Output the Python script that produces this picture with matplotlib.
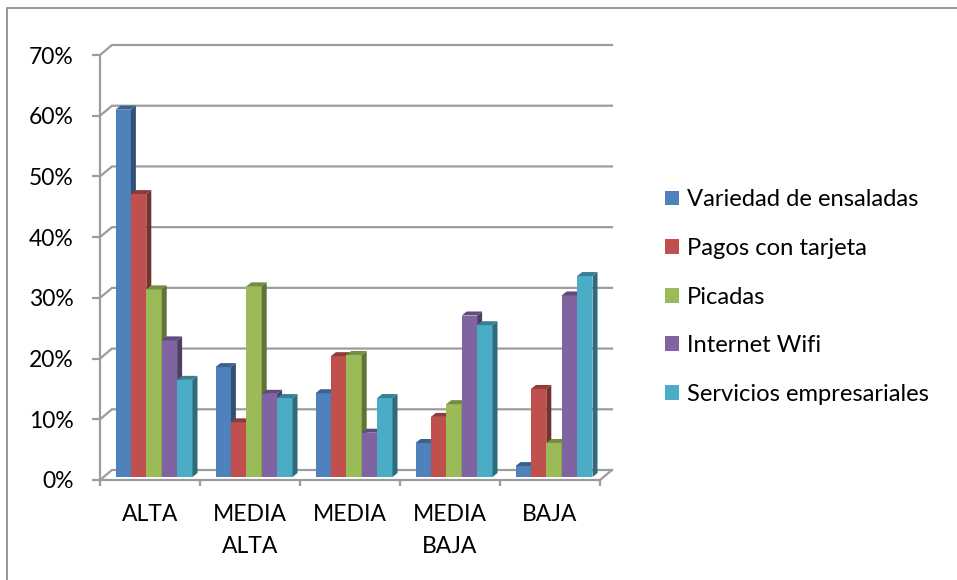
import numpy as np
import matplotlib
matplotlib.use('Agg')
import matplotlib.pyplot as plt
from matplotlib.patches import Polygon, Patch, Rectangle

plt.rcParams['font.family'] = ['Lato', 'DejaVu Sans']

# survey shares (%) per priority level
categories = ['ALTA', 'MEDIA\nALTA', 'MEDIA', 'MEDIA\nBAJA', 'BAJA']
series = ['Variedad de ensaladas', 'Pagos con tarjeta', 'Picadas',
          'Internet Wifi', 'Servicios empresariales']
variedad = [60.5, 18.1, 13.8, 5.6, 1.8]
pagos = [46.6, 9.0, 19.9, 9.9, 14.5]
picadas = [30.9, 31.4, 20.1, 12.0, 5.6]
wifi = [22.5, 13.7, 7.3, 26.6, 29.9]
empresariales = [16.0, 13.0, 13.0, 25.0, 33.1]
yticks = [0, 10, 20, 30, 40, 50, 60, 70]

values = [variedad, pagos, picadas, wifi, empresariales]
colors = ['#4F81BD', '#C0504D', '#9BBB59', '#8064A2', '#4BACC6']
grid_c = '#9C9C9C'

W, H = 957, 580
fig = plt.figure(figsize=(W / 100, H / 100), dpi=100)

# front plane of the 3D box: x 100..600 px, 0% at y=480, 70% at y=55
ax = fig.add_axes([100 / W, 1 - 480 / H, 500 / W, 425 / H])
ax.set_xlim(0, len(categories))
ax.set_ylim(0, 70)
ax.patch.set_visible(False)

px = len(categories) / 500.0   # data units per pixel, x
py = 70 / 425.0                # data units per pixel, y
wall_dx, wall_dy = 12 * px, 10 * py
bar_dx, bar_dy = 4 * px, 3 * py
deep_dx, deep_dy = 5 * px, 4 * py

# back wall gridlines with the slanted stub from the front axis
for t in yticks:
    ax.plot([0, wall_dx, len(categories) + wall_dx], [t, t + wall_dy, t + wall_dy],
            color=grid_c, lw=1.6, zorder=1, clip_on=False, solid_joinstyle='miter')
ax.plot([len(categories), len(categories) + wall_dx], [0, wall_dy],
        color=grid_c, lw=1.6, zorder=1, clip_on=False)

def shade(c, f):
    r, g, b = matplotlib.colors.to_rgb(c)
    return (r * f, g * f, b * f)

bw = 0.154
n = len(series)
x = np.arange(len(categories)) + 0.5
z = 3
for gi in range(len(categories)):
    for si in range(n):
        v = values[si][gi]
        xl = x[gi] - bw * n / 2 + si * bw + bar_dx
        xr = xl + bw
        y0 = bar_dy
        ax.bar(xl, v, width=bw, bottom=y0, align='edge', color=colors[si],
               zorder=z, clip_on=False, linewidth=0)
        side = Polygon([(xr, y0), (xr + deep_dx, y0 + deep_dy),
                        (xr + deep_dx, y0 + v + deep_dy), (xr, y0 + v)],
                       closed=True, facecolor=shade(colors[si], 0.62),
                       edgecolor='none', zorder=z, clip_on=False)
        top = Polygon([(xl, y0 + v), (xl + deep_dx, y0 + v + deep_dy),
                       (xr + deep_dx, y0 + v + deep_dy), (xr, y0 + v)],
                      closed=True, facecolor=shade(colors[si], 0.75),
                      edgecolor='none', zorder=z, clip_on=False)
        ax.add_patch(side)
        ax.add_patch(top)
        z += 1

for s in ['top', 'right']:
    ax.spines[s].set_visible(False)
for s in ['left', 'bottom']:
    ax.spines[s].set_color(grid_c)
    ax.spines[s].set_linewidth(1.6)

ax.set_yticks(yticks)
ax.set_yticklabels([f'{t}%' for t in yticks])
ax.tick_params(axis='y', length=6, width=1.6, color=grid_c, pad=13, labelsize=16.5)

ax.set_xticks(range(len(categories) + 1))
ax.set_xticklabels([])
ax.tick_params(axis='x', which='major', length=4.5, width=1.6, color=grid_c)
ax.set_xticks(x, minor=True)
ax.set_xticklabels(categories, minor=True, fontsize=16.5, linespacing=1.65)
ax.tick_params(axis='x', which='minor', length=0, pad=17)

handles = [Patch(facecolor=c, edgecolor='none') for c in colors]
fig.legend(handles, series, loc='center left', bbox_to_anchor=(665 / W, 1 - 297 / H),
           frameon=False, fontsize=17.1, handlelength=0.58, handleheight=0.58,
           handletextpad=0.33, labelspacing=1.16, borderpad=0, borderaxespad=0)

# outer chart border (runs off the right and bottom edges)
fig.add_artist(Rectangle((7 / W, -0.5), 2, 1.5 - 8 / H, transform=fig.transFigure,
                         fill=False, edgecolor='#868686', lw=1.2))

fig.savefig('out.png', dpi=100)
